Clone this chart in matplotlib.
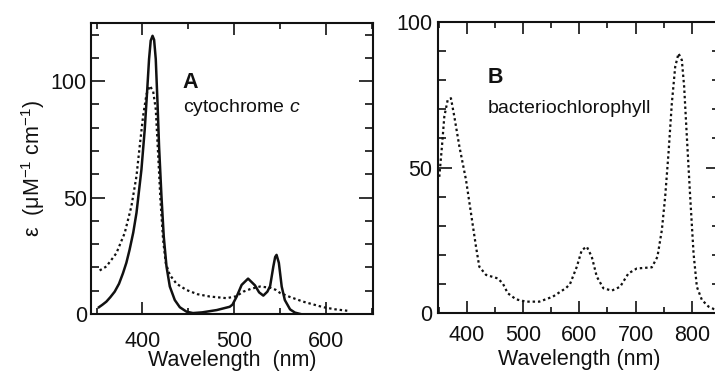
import matplotlib
matplotlib.use("Agg")
import matplotlib.pyplot as plt
from matplotlib.ticker import MultipleLocator

# ==============================
# DATA
# ==============================
# Panel A - cytochrome c, reduced (solid)
a_red_nm = [352.6, 356.5, 360.7, 365.0, 369.8, 374.5, 378.8, 382.5, 386.0, 390.0,
            393.5, 398.9, 402.5, 405.0, 407.2, 409.0, 411.0, 412.7, 414.5, 416.4,
            418.1, 420.7, 423.2, 426.2, 429.8, 435.2, 440.7, 448.0, 455.0, 465.0,
            481.0, 495.0, 498.0, 502.6, 508.0, 515.0, 522.5, 527.0, 531.6, 536.0,
            539.0, 542.5, 544.5, 546.0, 548.5, 551.6, 555.0, 560.7, 566.0, 572.0]
a_red_eps = [2.9, 4.0, 5.3, 7.2, 9.6, 13.0, 17.5, 22.0, 27.6, 35.0,
             43.4, 62.0, 79.3, 95.0, 109.5, 117.4, 119.5, 117.8, 109.5, 90.8,
             72.0, 50.6, 33.3, 20.4, 11.8, 6.0, 2.9, 1.0, 0.4, 0.7,
             1.7, 3.1, 4.0, 7.5, 12.5, 15.2, 12.3, 9.3, 7.9, 9.6,
             12.0, 20.4, 24.5, 25.4, 22.0, 11.8, 6.0, 2.0, 0.6, 0.0]

# Panel A - cytochrome c, oxidized (dotted)
a_ox_nm = [353.4, 360.7, 371.6, 380.7, 388.0, 393.5, 397.0, 400.7, 404.4, 408.0,
           411.6, 414.5, 417.0, 419.6, 422.5, 425.4, 429.8, 437.1, 448.0, 460.0,
           473.4, 491.6, 502.0, 509.8, 518.0, 528.0, 539.0, 545.0, 550.0, 560.0,
           575.0, 597.0, 610.0, 623.0]
a_ox_eps = [18.7, 20.4, 26.1, 34.8, 46.3, 59.2, 72.0, 85.0, 94.4, 98.0,
            95.8, 88.0, 69.3, 49.0, 31.9, 21.8, 16.8, 13.0, 10.3, 8.5,
            7.5, 6.8, 7.6, 9.6, 10.8, 11.8, 11.3, 10.4, 9.0, 7.4,
            5.3, 2.9, 2.0, 1.4]

# Panel B - bacteriochlorophyll (dotted)
b_nm = [351.3, 356.0, 360.2, 366.2, 372.0, 378.0, 387.0, 398.8, 407.6, 416.5,
        422.4, 434.3, 455.0, 464.0, 472.9, 487.6, 505.4, 529.0, 552.9, 576.6,
        583.6, 595.6, 604.4, 613.3, 622.2, 631.1, 642.8, 657.8, 672.5, 687.3,
        702.2, 728.9, 738.8, 746.7, 752.6, 758.5, 764.4, 770.4, 776.3, 782.2,
        786.3, 791.1, 797.0, 803.0, 808.9, 817.8, 829.6, 839.7, 850.0]
b_eps = [46.8, 57.2, 67.5, 73.2, 73.8, 67.5, 57.2, 45.7, 34.3, 22.8,
         15.9, 13.1, 11.9, 10.2, 6.8, 4.7, 3.9, 3.9, 5.6, 8.6,
         10.0, 15.9, 21.6, 22.8, 19.3, 12.5, 8.5, 7.7, 9.0, 13.6,
         15.3, 15.7, 19.3, 28.5, 40.0, 54.9, 72.0, 84.6, 89.2, 86.9,
         77.8, 60.6, 40.0, 20.5, 9.0, 4.5, 2.2, 1.3, 0.8]

a_xticks = [400, 500, 600]
a_yticks = [0, 50, 100]
b_xticks = [400, 500, 600, 700, 800]
b_yticks = [0, 50, 100]

# ==============================
# STYLE
# ==============================
plt.rcParams["font.family"] = ["Liberation Sans", "DejaVu Sans"]
plt.rcParams["mathtext.fontset"] = "custom"
plt.rcParams["mathtext.rm"] = "Liberation Sans"
plt.rcParams["mathtext.it"] = "Liberation Sans:italic"
plt.rcParams["mathtext.bf"] = "Liberation Sans:bold"

ink = "#111111"
dots = (0, (1.1, 1.3))
tick_fs = 15.5
W, H = 715, 378

fig = plt.figure(figsize=(W / 100, H / 100), dpi=100)
fig.patch.set_facecolor("white")


def px_axes(left, right, top, bottom):
    return fig.add_axes([left / W, 1 - bottom / H, (right - left) / W, (bottom - top) / H])


def style(ax, xpad):
    for s in ax.spines.values():
        s.set_linewidth(1.5)
        s.set_color(ink)
    ax.tick_params(which="both", direction="in", top=True, right=True,
                   colors=ink, width=1.2, labelsize=tick_fs)
    ax.tick_params(axis="x", which="major", length=8.5, pad=xpad)
    ax.tick_params(axis="x", which="minor", length=4.6)
    ax.tick_params(axis="y", which="major", length=10, pad=3)
    ax.tick_params(axis="y", which="minor", length=5.8)
    ax.xaxis.set_minor_locator(MultipleLocator(50))
    ax.yaxis.set_minor_locator(MultipleLocator(10))


# ==============================
# PANEL A
# ==============================
axA = px_axes(91, 373, 23, 314)
axA.plot(a_red_nm, a_red_eps, color=ink, lw=1.8, solid_joinstyle="round")
axA.plot(a_ox_nm, a_ox_eps, color=ink, lw=1.6, linestyle=dots)
axA.set_xlim(344, 651)
axA.set_ylim(0, 125)
axA.set_xticks(a_xticks)
axA.set_yticks(a_yticks)
style(axA, 12.5)
axA.set_xlabel("Wavelength  (nm)", fontsize=tick_fs, labelpad=-1.5, color=ink)
axA.set_ylabel(r"ε  (μM$^{\mathregular{-1}}$ cm$^{\mathregular{-1}}$)",
               fontsize=tick_fs, labelpad=3, color=ink)
axA.text(0.326, 0.777, "A", transform=axA.transAxes, fontsize=15.5,
         fontweight="bold", color=ink)
axA.text(0.326, 0.694, r"cytochrome $\mathit{c}$", transform=axA.transAxes,
         fontsize=14, color=ink)

# ==============================
# PANEL B
# ==============================
axB = px_axes(438, 720, 22, 313)
axB.plot(b_nm, b_eps, color=ink, lw=1.6, linestyle=dots)
axB.set_xlim(349, 850)
axB.set_ylim(0, 100)
axB.set_xticks(b_xticks)
axB.set_yticks(b_yticks)
style(axB, 8.6)
axB.tick_params(axis="y", which="major", pad=4)
axB.set_xlabel("Wavelength (nm)", fontsize=tick_fs, labelpad=2.5, color=ink)
axB.text(0.177, 0.79, "B", transform=axB.transAxes, fontsize=15.5,
         fontweight="bold", color=ink)
axB.text(0.177, 0.687, "bacteriochlorophyll", transform=axB.transAxes,
         fontsize=14, color=ink)

plt.savefig("out.png", dpi=100, facecolor="white")
plt.close()
